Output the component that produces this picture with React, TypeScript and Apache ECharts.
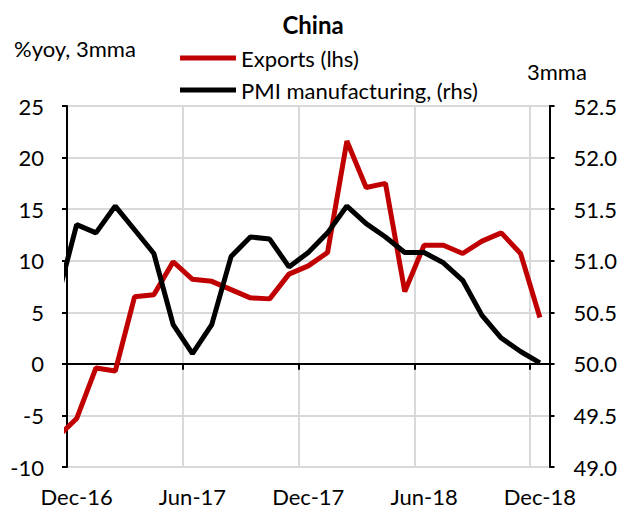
import React, { useEffect, useRef } from "react";
import * as echarts from "echarts";

// Monthly points, mid-month; first point (Nov-16) lies before the axis start and is clipped
const months = [
  "Nov-16", "Dec-16", "Jan-17", "Feb-17", "Mar-17", "Apr-17", "May-17", "Jun-17", "Jul-17",
  "Aug-17", "Sep-17", "Oct-17", "Nov-17", "Dec-17", "Jan-18", "Feb-18", "Mar-18", "Apr-18",
  "May-18", "Jun-18", "Jul-18", "Aug-18", "Sep-18", "Oct-18", "Nov-18", "Dec-18",
];
const exportsYoy = [
  -7.1, -5.3, -0.4, -0.7, 6.5, 6.7, 9.9, 8.2, 8.0, 7.2, 6.4, 6.3, 8.7, 9.5, 10.8, 21.6, 17.1,
  17.5, 7.0, 11.5, 11.5, 10.7, 11.9, 12.7, 10.7, 4.5,
];
const pmiManufacturing = [
  50.63, 51.35, 51.27, 51.53, 51.3, 51.07, 50.38, 50.1, 50.38, 51.04, 51.23, 51.21, 50.94, 51.08,
  51.27, 51.53, 51.36, 51.23, 51.08, 51.08, 50.98, 50.81, 50.47, 50.25, 50.12, 50.01,
];
// axis categories (Dec-16 .. Dec-18)
const axisMonths = months.slice(1);
const leftTicks = { min: -10, max: 25, interval: 5 };
const rightTicks = { min: 49, max: 52.5, interval: 0.5 };

const FONT = "Lato";
const FS = 22;

export default function App() {
  const ref = useRef<HTMLDivElement>(null);
  useEffect(() => {
    if (!ref.current) return;
    const chart = echarts.init(ref.current, null, { renderer: "svg" });
    const n = axisMonths.length;
    const xData = (vals: number[]) => vals.map((v, i) => [i - 0.5, v]);
    const legendText = { fontSize: FS, fontFamily: FONT, color: "#000", lineHeight: 22 };
    chart.setOption({
      animation: false,
      backgroundColor: "#ffffff",
      textStyle: { fontFamily: FONT },
      grid: { left: 67, right: 67, top: 106, bottom: 41, containLabel: false },
      graphic: [
        {
          type: "text", x: 313, y: 24,
          style: { text: "China", font: `bold 24px ${FONT}`, fill: "#000", textAlign: "center", textVerticalAlign: "middle" },
        },
        {
          type: "text", x: 14, y: 48,
          style: { text: "%yoy, 3mma", font: `${FS}px ${FONT}`, fill: "#000", textAlign: "left", textVerticalAlign: "middle" },
        },
        {
          type: "text", x: 527, y: 71,
          style: { text: "3mma", font: `${FS}px ${FONT}`, fill: "#000", textAlign: "left", textVerticalAlign: "middle" },
        },
      ],
      legend: [
        {
          data: ["Exports (lhs)"], left: 180, top: 47, padding: 0, icon: "rect", itemWidth: 56, itemHeight: 5,
          textStyle: legendText,
        },
        {
          data: ["PMI manufacturing, (rhs)"], left: 180, top: 79, padding: 0, icon: "rect", itemWidth: 56, itemHeight: 5,
          textStyle: legendText,
        },
      ],
      xAxis: [
        {
          type: "value", position: "bottom", min: 0, max: n, interval: 6,
          axisLine: { onZero: true, lineStyle: { color: "#000", width: 2 } },
          axisTick: { show: true, length: 6, lineStyle: { color: "#000", width: 2 } },
          axisLabel: { show: false },
          splitLine: { show: true, lineStyle: { color: "#d9d9d9", width: 2 } },
        },
        {
          type: "category", position: "bottom", data: axisMonths, boundaryGap: true,
          axisLine: { show: false, onZero: false },
          axisTick: { show: false },
          axisLabel: { interval: 5, fontSize: FS, fontFamily: FONT, color: "#000", margin: 18 },
          splitLine: { show: false },
        },
      ],
      yAxis: [
        {
          type: "value", position: "left", ...leftTicks,
          axisLine: { show: true, lineStyle: { color: "#000", width: 2 } },
          axisTick: { show: true, length: 5, lineStyle: { color: "#000", width: 2 } },
          axisLabel: { fontSize: FS, fontFamily: FONT, color: "#000", margin: 23 },
          splitLine: { show: true, lineStyle: { color: "#d9d9d9", width: 2 } },
        },
        {
          type: "value", position: "right", ...rightTicks,
          axisLine: { show: true, lineStyle: { color: "#000", width: 2 } },
          axisTick: { show: true, length: 5, lineStyle: { color: "#000", width: 2 } },
          axisLabel: { fontSize: FS, fontFamily: FONT, color: "#000", margin: 24, formatter: (v: number) => v.toFixed(1) },
          splitLine: { show: false },
        },
      ],
      series: [
        {
          name: "Exports (lhs)", type: "line", xAxisIndex: 0, yAxisIndex: 0,
          data: xData(exportsYoy), showSymbol: false, clip: true,
          lineStyle: { color: "#c00000", width: 5 }, itemStyle: { color: "#c00000" },
        },
        {
          name: "PMI manufacturing, (rhs)", type: "line", xAxisIndex: 0, yAxisIndex: 1,
          data: xData(pmiManufacturing), showSymbol: false, clip: true,
          lineStyle: { color: "#000", width: 5 }, itemStyle: { color: "#000" },
        },
      ],
    });
    return () => chart.dispose();
  }, []);
  return (
    <div
      ref={ref}
      style={{ position: "fixed", left: 0, top: 0, width: 620, height: 508, background: "#fff" }}
    />
  );
}
